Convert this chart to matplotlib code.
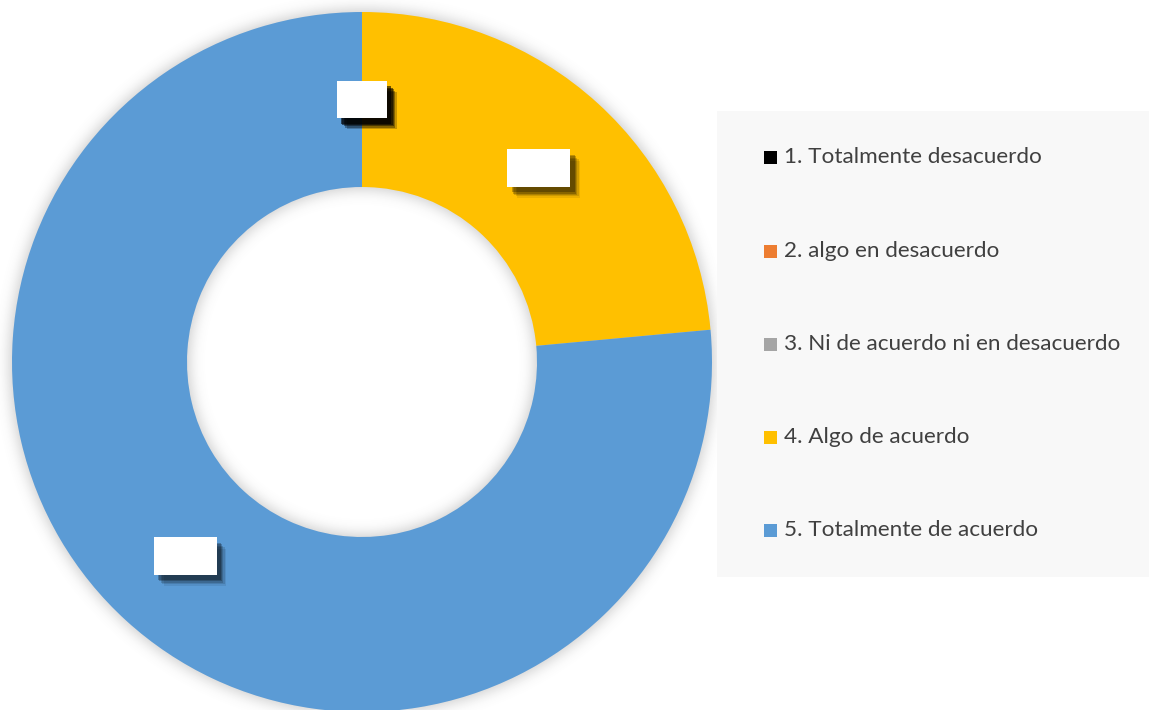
import matplotlib
matplotlib.use("Agg")
import matplotlib.pyplot as plt
import numpy as np
from matplotlib.patches import Rectangle
from matplotlib import patheffects as pe

# data
categories = ["1. Totalmente desacuerdo", "2. algo en desacuerdo",
              "3. Ni de acuerdo ni en desacuerdo", "4. Algo de acuerdo",
              "5. Totalmente de acuerdo"]
values = [0, 0, 0, 4, 13]
colors = ["#000000", "#ED7D31", "#A5A5A5", "#FFC000", "#5B9BD5"]

W, H = 1149, 710
CX, CY, R = 362, 348, 350
RIN = 175

fig = plt.figure(figsize=(W / 100, H / 100), dpi=100)
ax = fig.add_axes([0, 0, 1, 1])

# soft shadow around the ring (blurred mask)
yy, xx = np.mgrid[0:H, 0:W]
rr = np.hypot(xx + 0.5 - CX, (H - yy - 0.5) - CY)
mask = ((rr <= R + 2) & (rr >= RIN - 2)).astype(float)
sig = 7
k = np.arange(-3 * sig, 3 * sig + 1)
g = np.exp(-k**2 / (2 * sig**2))
g /= g.sum()
bl = np.apply_along_axis(lambda m: np.convolve(m, g, mode="same"), 1, mask)
bl = np.apply_along_axis(lambda m: np.convolve(m, g, mode="same"), 0, bl)
img = np.zeros((H, W, 4))
img[..., :3] = 0.45
img[..., 3] = bl * 0.38
ax.imshow(img, extent=[0, W, 0, H], origin="upper", zorder=0)

# legend background
ax.add_patch(Rectangle((717, H - 577), 432, 466, facecolor="#f8f8f8",
                       edgecolor="none", zorder=1))

wedges, texts, autotexts = ax.pie(
    values, colors=colors, startangle=90, counterclock=False,
    radius=R, center=(CX, CY), autopct="%1.0f%%", pctdistance=0.75,
    wedgeprops=dict(width=R - RIN, linewidth=0), frame=True)
for w in wedges:
    w.set_zorder(2)

# soft drop shadow built from a few offset layers
shadow = [pe.SimplePatchShadow(offset=(o, -o - 1), shadow_rgbFace="black",
                               alpha=a)
          for o, a in [(7, 0.08), (6, 0.12), (5, 0.16), (4, 0.22), (3, 0.25)]]
for t in autotexts:
    t.set_color("white")
    t.set_fontsize(14.5)
    t.set_zorder(6)
    t.set_bbox(dict(boxstyle="square,pad=0.45", facecolor="white",
                    edgecolor="none"))
    t.get_bbox_patch().set_path_effects(shadow + [pe.Normal()])

# legend entries
ys = [157, 251, 344, 437, 530]
for lab, c, yv in zip(categories, colors, ys):
    ax.add_patch(Rectangle((764, H - yv - 6.5), 13, 13, facecolor=c,
                           edgecolor="none", zorder=3))
    ax.text(784, H - yv, lab, fontsize=16.2, color="#404040", va="center",
            ha="left", family="Lato", zorder=3)

ax.set_xlim(0, W)
ax.set_ylim(0, H)
ax.set_aspect("equal")
ax.axis("off")

fig.savefig("out.png", dpi=100, facecolor="white")
